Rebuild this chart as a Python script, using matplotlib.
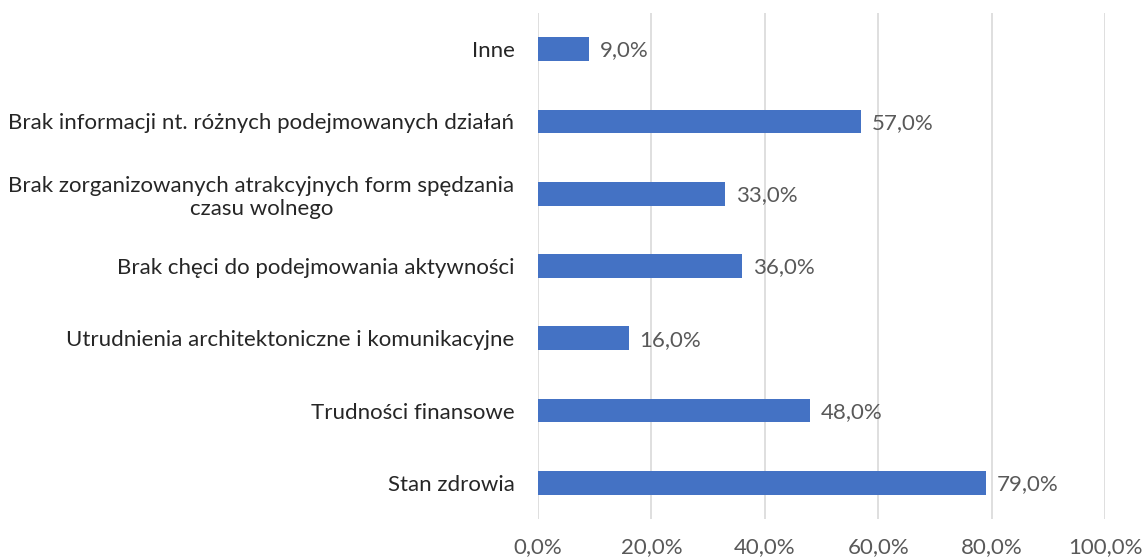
import numpy as np
import matplotlib.pyplot as plt

# categories listed bottom to top
categories = [
    "Stan zdrowia",
    "Trudności finansowe",
    "Utrudnienia architektoniczne i komunikacyjne",
    "Brak chęci do podejmowania aktywności",
    "Brak zorganizowanych atrakcyjnych form spędzania\nczasu wolnego",
    "Brak informacji nt. różnych podejmowanych działań",
    "Inne",
]
values = [79.0, 48.0, 16.0, 36.0, 33.0, 57.0, 9.0]
xticks = [0, 20, 40, 60, 80, 100]

plt.rcParams['font.family'] = ['Lato', 'DejaVu Sans']
fs = 16

fig = plt.figure(figsize=(11.44, 5.59), dpi=100)
ax = fig.add_axes([538/1144, 1-519/559, (1105-538)/1144, (519-13)/559])

y = np.arange(len(categories))
ax.barh(y, values, height=0.33, color='#4472C4', zorder=3)
for yi, v in zip(y, values):
    ax.text(v + 1.9, yi - 0.02, ('%.1f' % v).replace('.', ',') + '%', va='center', ha='left',
            fontsize=fs, color='#595959')

ax.set_xlim(0, 100)
ax.set_ylim(-0.5, len(categories) - 0.5)
ax.set_yticks(y)
ax.set_yticklabels(categories, fontsize=fs, color='#262626', ha='right', multialignment='center',
                   linespacing=1.2)
ax.set_xticks(xticks)
ax.set_xticklabels([('%.1f' % t).replace('.', ',') + '%' for t in xticks], fontsize=fs, color='#595959')
ax.tick_params(axis='both', length=0)
ax.tick_params(axis='y', pad=17)
ax.tick_params(axis='x', pad=13)
ax.xaxis.grid(True, color='#D9D9D9', linewidth=1.2, zorder=0)
for s in ax.spines.values():
    s.set_visible(False)

fig.savefig('out.png', dpi=100)
